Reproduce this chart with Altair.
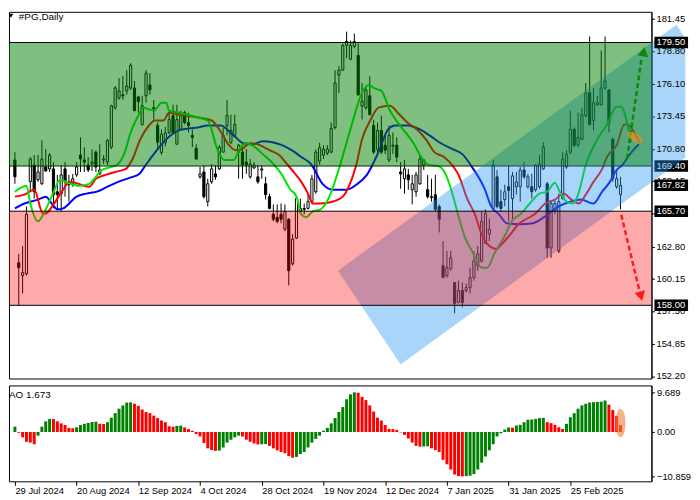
import altair as alt
import numpy as np
import pandas as pd

# ---------------- data ----------------
date_ticks = [0, 16, 32, 48, 64, 80, 96, 112, 128, 144]
date_labels = ["29 Jul 2024", "20 Aug 2024", "12 Sep 2024", "4 Oct 2024", "28 Oct 2024",
               "19 Nov 2024", "12 Dec 2024", "7 Jan 2025", "31 Jan 2025", "25 Feb 2025"]

opens = [
    169.89, 161.48, 160.43, 160.59, 168.11, 169.48, 168.27, 167.94, 169.32, 169.16,
    169.16, 167.29, 167.13, 169.16, 168.10, 167.94, 168.67, 170.29, 169.89, 169.48,
    169.56, 170.53, 168.75, 169.89, 169.72, 170.94, 174.17, 174.97, 175.22, 175.54,
    175.78, 175.78, 175.05, 172.79, 175.14, 176.03, 174.17, 172.71, 170.50, 171.30,
    172.14, 173.52, 171.18, 172.39, 173.76, 172.95, 171.90, 170.85, 168.51, 168.91,
    166.48, 168.10, 168.75, 169.16, 170.53, 172.71, 171.34, 171.90, 170.53, 170.53,
    169.72, 168.51, 169.24, 168.51, 169.07, 167.94, 166.89, 165.44, 165.20, 165.44,
    164.23, 165.04, 161.40, 163.50, 165.68, 165.93, 165.93, 166.48, 167.29, 169.80,
    170.29, 170.45, 170.53, 172.55, 176.83, 177.24, 179.26, 178.13, 179.18, 178.45,
    174.30, 174.17, 175.14, 172.71, 170.77, 172.31, 171.10, 169.89, 171.02, 171.10,
    168.91, 168.35, 168.67, 167.46, 167.29, 167.94, 169.48, 167.46, 166.89, 167.05,
    166.09, 161.24, 160.43, 161.00, 159.86, 158.24, 159.21, 159.21, 159.46, 160.27,
    161.24, 161.63, 163.09, 163.83, 165.93, 168.51, 166.48, 166.65, 167.70, 166.73,
    167.70, 167.70, 169.07, 167.70, 167.70, 167.46, 167.70, 169.16, 167.94, 162.69,
    165.68, 162.44, 166.73, 169.32, 170.53, 172.39, 171.10, 171.58, 173.52, 175.38,
    173.12, 174.41, 174.41, 175.78, 175.62, 171.58, 167.70, 167.05]
highs = [
    170.53, 162.21, 162.85, 166.09, 170.13, 170.29, 170.29, 171.50, 170.77, 170.45,
    169.72, 168.67, 169.48, 169.72, 168.67, 168.75, 169.72, 171.74, 170.94, 170.13,
    170.77, 170.69, 171.18, 170.29, 171.58, 174.41, 175.94, 176.59, 176.75, 177.24,
    177.80, 176.35, 175.14, 175.14, 177.24, 176.99, 174.81, 172.95, 172.40, 172.60,
    173.76, 174.41, 174.41, 173.92, 173.92, 173.76, 172.39, 171.18, 169.32, 169.48,
    168.35, 169.56, 169.48, 171.10, 172.55, 174.81, 173.60, 173.60, 171.18, 170.94,
    170.77, 169.97, 169.72, 169.48, 169.48, 168.51, 167.13, 166.25, 166.25, 166.33,
    166.25, 165.12, 163.83, 166.89, 166.73, 166.33, 167.05, 168.67, 170.77, 171.30,
    171.10, 171.10, 172.95, 177.24, 177.56, 179.42, 180.39, 179.66, 180.23, 179.42,
    176.20, 175.94, 176.75, 173.19, 172.95, 173.52, 171.90, 172.71, 172.14, 171.74,
    169.72, 169.89, 169.16, 168.67, 168.91, 170.29, 169.97, 168.67, 168.35, 168.67,
    166.25, 163.25, 162.44, 162.44, 159.86, 160.02, 159.86, 159.78, 161.08, 162.44,
    162.85, 165.68, 165.85, 165.12, 169.89, 169.07, 167.46, 167.86, 169.48, 168.91,
    168.91, 169.32, 169.72, 168.75, 168.75, 169.56, 170.29, 171.34, 168.10, 166.48,
    166.65, 167.13, 170.53, 170.69, 173.92, 172.55, 173.76, 174.17, 176.19, 179.99,
    175.78, 175.14, 178.85, 179.99, 175.62, 171.74, 169.16, 168.51]
lows = [
    167.94, 158.00, 158.97, 160.43, 167.30, 166.73, 168.10, 167.86, 168.91, 168.91,
    165.93, 165.85, 165.68, 166.89, 166.48, 167.70, 168.51, 168.91, 168.91, 168.91,
    168.99, 168.91, 168.67, 169.56, 169.48, 170.77, 174.00, 174.81, 174.81, 175.22,
    175.62, 173.92, 173.76, 172.71, 174.57, 175.22, 173.20, 170.69, 170.30, 171.00,
    171.98, 171.98, 171.18, 172.31, 172.79, 172.14, 170.94, 169.89, 168.35, 166.73,
    166.09, 167.94, 168.27, 169.07, 170.53, 171.90, 171.18, 171.74, 168.35, 168.35,
    168.75, 168.35, 169.16, 167.94, 168.35, 166.65, 165.85, 164.87, 164.71, 164.71,
    164.06, 159.62, 161.24, 163.42, 165.44, 165.44, 165.85, 166.33, 167.13, 169.50,
    169.97, 170.29, 170.45, 172.39, 175.38, 177.16, 178.21, 178.05, 179.02, 175.14,
    173.20, 174.00, 173.52, 170.37, 170.53, 170.37, 170.37, 169.72, 170.37, 169.72,
    167.54, 167.13, 167.46, 166.25, 166.89, 167.86, 169.07, 166.73, 166.48, 165.68,
    163.96, 160.27, 160.27, 160.83, 157.35, 158.16, 157.84, 159.05, 158.97, 160.02,
    160.83, 161.48, 163.01, 163.25, 165.85, 165.93, 165.68, 166.09, 164.87, 164.87,
    167.05, 166.48, 168.35, 167.54, 166.73, 167.29, 167.54, 169.07, 161.89, 161.89,
    165.44, 162.29, 166.65, 169.16, 170.37, 170.94, 170.94, 171.50, 173.36, 172.71,
    172.31, 174.33, 174.33, 175.62, 172.14, 168.10, 167.54, 165.85]
closes = [
    168.51, 161.08, 160.67, 165.44, 169.97, 167.30, 168.91, 169.97, 169.00, 170.29,
    167.05, 167.05, 168.67, 168.10, 167.86, 168.35, 169.32, 169.97, 169.72, 169.07,
    169.72, 169.32, 169.07, 169.97, 171.50, 174.33, 175.78, 175.54, 175.13, 175.94,
    177.64, 173.92, 174.65, 174.33, 176.99, 175.62, 173.92, 171.34, 172.00, 172.10,
    173.19, 172.14, 173.19, 173.52, 172.95, 172.71, 171.74, 169.97, 168.75, 166.89,
    167.94, 169.16, 168.51, 170.94, 171.90, 173.52, 172.31, 172.79, 171.10, 169.48,
    169.48, 169.56, 169.48, 168.10, 169.16, 167.05, 165.93, 165.04, 164.87, 165.04,
    165.68, 160.83, 163.42, 166.73, 165.93, 165.85, 166.48, 168.35, 170.53, 170.90,
    170.77, 170.77, 172.47, 176.19, 177.24, 179.26, 179.58, 179.26, 179.58, 175.22,
    174.70, 175.62, 173.60, 170.53, 172.31, 170.53, 170.69, 171.90, 171.10, 170.13,
    168.75, 169.16, 168.27, 167.94, 168.67, 169.97, 169.89, 166.89, 166.81, 165.85,
    165.04, 160.27, 161.08, 161.89, 158.16, 159.21, 158.24, 159.46, 160.27, 161.63,
    162.21, 164.87, 165.52, 164.23, 169.48, 166.09, 165.93, 167.29, 167.40, 168.59,
    168.10, 169.07, 168.51, 168.51, 167.29, 169.48, 169.56, 170.94, 162.69, 166.33,
    166.33, 166.48, 169.97, 170.37, 172.39, 171.10, 171.74, 173.60, 175.38, 172.79,
    174.57, 174.57, 175.78, 176.35, 172.95, 168.35, 168.35, 167.82]

# moving-average lines (bar index, price) read at sample points
lips_x = [0, 3, 4, 6, 7.5, 9.75, 11.75, 13.75, 16.75, 19.25, 21, 22.5, 25, 26.75, 28.5, 30, 31.75,
          33.5, 35, 36.25, 38, 39.25, 40, 42.5, 47.5, 50, 52.5, 54.25, 56.75, 58.5, 60, 62.25, 64.25,
          67.25, 69.25, 71.25, 73, 74.25, 75.5, 77.25, 79.25, 81.75, 83.75, 85.5, 87.5, 89.75, 91.75,
          93, 95, 97.25, 99.25, 101.25, 103.5, 105, 107.25, 109.75, 111.75, 113.5, 115, 116.75, 118.5,
          121, 122.5, 124.25, 127.25, 128.75, 131, 133.5, 136, 138, 140, 141.25, 143, 144.75, 146, 148,
          151, 153.5, 156, 157.25, 158.5, 159.75]
lips_y = [167.30, 167.78, 166.33, 164.87, 165.52, 167.05, 168.27, 168.02, 167.78, 167.94, 168.51,
          169.07, 169.32, 169.56, 170.53, 172.14, 173.36, 174.17, 174.00, 174.00, 174.57, 174.57,
          173.92, 173.76, 173.36, 173.12, 170.77, 169.89, 169.89, 170.94, 171.26, 170.94, 170.37,
          169.48, 168.67, 167.54, 166.89, 165.44, 165.20, 165.68, 165.85, 167.05, 168.91, 170.77,
          172.95, 175.22, 176.03, 175.78, 175.54, 173.92, 172.95, 172.14, 171.18, 170.29, 169.48,
          169.40, 168.67, 167.05, 165.28, 163.50, 162.45, 161.08, 161.08, 162.21, 163.83, 164.87,
          165.44, 166.33, 167.14, 167.30, 168.03, 167.30, 166.49, 166.33, 167.06, 169.48, 171.58,
          172.79, 174.25, 174.25, 173.20, 171.34]
teeth_x = [0, 2.5, 5, 7.25, 8, 10, 12.5, 14.25, 19.25, 21, 23.5, 26, 28.75, 30.5, 32.5, 34.75, 36.25,
           38.5, 40, 42.5, 47.5, 51, 53.5, 55.5, 57.25, 58.75, 61, 63.5, 66, 68.5, 70.5, 72.25, 74.25,
           76, 77.25, 79.25, 82.5, 85, 86.75, 88.5, 90, 92.25, 94.25, 97.25, 99.25, 101.75, 104.25,
           106.75, 108.75, 111.25, 113.75, 115, 117.25, 119.25, 121, 123, 124.75, 126.25, 128.5, 130.5,
           132.5, 135, 137.5, 140, 142.25, 144.25, 146.25, 148, 150, 152.25, 153.5, 156, 158, 158.75,
           161, 162]
teeth_y = [166.89, 167.05, 167.46, 165.52, 165.52, 166.25, 167.46, 168.10, 167.70, 168.35, 168.67,
           168.91, 169.16, 169.97, 171.58, 172.71, 173.12, 173.12, 173.76, 173.60, 173.36, 173.12,
           172.14, 171.10, 170.69, 170.77, 171.26, 171.10, 170.69, 170.29, 169.56, 168.91, 168.10,
           167.14, 166.33, 166.33, 166.49, 166.89, 167.86, 169.48, 171.58, 173.20, 174.17, 174.33,
           173.76, 172.95, 172.39, 171.50, 170.53, 170.13, 169.32, 168.67, 166.73, 165.44, 163.82,
           162.85, 162.61, 163.02, 163.82, 164.63, 165.04, 165.52, 166.33, 166.65, 167.14, 166.65,
           166.33, 167.06, 168.10, 169.16, 170.13, 171.10, 172.79, 172.79, 171.90, 171.34]
jaw_x = [0, 2.5, 6, 8, 9.75, 11, 12.5, 16, 18.5, 21.25, 23.5, 26.75, 29.75, 32.25, 33.75, 36, 38.5,
         39.25, 42.5, 45, 47.5, 50, 53.5, 55, 57.25, 59.25, 61.75, 64.25, 66.75, 69.25, 71.75, 74.25,
         76.75, 79.75, 82.5, 86, 88.5, 91.25, 94.25, 96.75, 98.5, 101.75, 105, 107.5, 110, 113.5, 116,
         118.5, 121.75, 123.5, 125.5, 127.5, 131, 134.25, 137.5, 141, 144.25, 146.75, 150, 152.25,
         154.25, 156, 157.5, 159.25, 161.75]
jaw_y = [165.93, 166.33, 166.65, 166.89, 166.25, 165.85, 165.93, 166.89, 167.14, 167.30, 167.62,
         168.10, 168.43, 168.75, 169.40, 170.37, 171.34, 171.58, 172.31, 172.47, 172.55, 172.71,
         172.71, 172.39, 171.74, 171.26, 171.18, 171.42, 171.34, 171.10, 170.69, 170.13, 169.56,
         167.94, 167.46, 167.46, 167.86, 168.67, 170.53, 172.39, 172.71, 172.71, 172.39, 171.90,
         171.34, 170.77, 170.37, 169.32, 167.54, 166.09, 165.44, 164.71, 164.63, 164.71, 165.28,
         166.09, 166.49, 166.65, 166.33, 167.30, 168.10, 169.07, 169.48, 170.29, 171.18]

ao_values = [
    1.3, -0.2, -1.3, -2.4, -2.6, -3.0, -0.9, 1.3, 2.6, 3.2,
    3.15, 2.6, 2.1, 1.7, 1.0, 0.9, 1.15, 1.7, 2.0, 2.2,
    2.45, 2.5, 2.0, 1.95, 2.4, 3.5, 4.6, 5.7, 6.5, 7.2,
    7.25, 6.9, 6.4, 5.5, 4.9, 4.6, 4.0, 3.4, 2.8, 2.4,
    1.4, 1.3, 1.5, 1.55, 1.1, 0.7, 0.3, -0.5, -1.1, -2.7,
    -4.0, -4.4, -4.6, -4.55, -3.8, -2.6, -1.9, -1.3, -0.9, -1.1,
    -1.9, -2.4, -2.8, -3.05, -3.0, -2.95, -3.4, -4.0, -4.5, -4.9,
    -5.2, -5.9, -6.3, -6.1, -5.4, -4.9, -3.8, -2.6, -1.7, -0.9,
    0.3, 1.0, 2.1, 3.4, 4.9, 6.1, 8.0, 9.2, 9.689, 9.6,
    8.6, 7.8, 6.5, 5.0, 3.5, 2.8, 1.7, 0.75, 0.7, 0.5,
    -0.1, -0.7, -1.6, -2.6, -3.4, -3.6, -3.55, -3.5, -4.0, -4.4,
    -4.9, -6.8, -7.9, -9.2, -10.4, -10.8, -10.859, -10.8, -10.7, -10.3,
    -9.2, -7.5, -6.0, -4.5, -3.0, -1.1, -0.3, 0.6, 1.1, 1.05,
    1.6, 1.75, 2.4, 3.0, 3.05, 3.2, 3.4, 3.45, 2.4, 2.15,
    1.75, 1.15, 0.75, 2.0, 3.6, 4.6, 5.7, 6.5, 6.9, 7.2,
    7.3, 7.35, 7.4, 7.7, 6.7, 5.4, 3.9, 1.673]

price_ticks = [181.45, 178.80, 176.10, 173.45, 170.80, 168.15, 165.50, 162.80, 160.15, 157.50, 154.85, 152.20]
ao_ticks = [9.689, 0.0, -10.859]

buy_zone = [169.40, 179.50]
sell_zone = [158.00, 165.70]
top_levels = [179.50, 165.70, 158.00]
mid_level = [169.40]
boxed_top = [179.50, 167.82, 165.70, 158.00]

channel_left = [83.75, 160.83]
channel_bottom = [100.0, 153.15]
channel_top = [171.5, 180.96]
channel_clip = 173.8

up_arrow_i = [158.7, 162.5]
up_arrow_p = [170.0, 178.3]
up_head = [163.0, 178.75]
down_arrow_i = [157.2, 161.9]
down_arrow_p = [165.4, 159.2]
down_head = [162.3, 158.75]
ellipse_main = [160.75, 171.74]
ellipse_ao = [157.0, 2.2]

# ---------------- chart ----------------
W, H_MAIN, H_AO = 650, 371, 97
FONT = "Liberation Sans"
FS = 9.5

n = len(closes)
candles = pd.DataFrame({"i": np.arange(n), "o": opens, "h": highs, "l": lows, "c": closes})

xs = alt.Scale(domain=[-0.25, 163.75], nice=False, zero=False)
ys = alt.Scale(domain=[152.01, 182.01], nice=False, zero=False)
yax = alt.Axis(orient="right", values=price_ticks, labels=False, tickSize=3, grid=False, title=None)


def X(f):
    return alt.X(f, type="quantitative", scale=xs, axis=None)


def Y(f):
    return alt.Y(f, type="quantitative", scale=ys, axis=yax)


wicks = alt.Chart(candles).mark_rule(color="black", strokeWidth=1).encode(x=X("i"), y=Y("l"), y2="h")
bodies = alt.Chart(candles).mark_bar(size=2.2, stroke="black", strokeWidth=1).encode(
    x=X("i"), y=Y("o"), y2="c",
    fill=alt.condition("datum.c >= datum.o", alt.value("white"), alt.value("black")))


def ma_layer(xv, yv, col):
    df = pd.DataFrame({"i": xv, "p": yv})
    return alt.Chart(df).mark_line(color=col, strokeWidth=2, interpolate="monotone").encode(x=X("i"), y=Y("p"))


jaw = ma_layer(jaw_x, jaw_y, "#0000ff")
teeth = ma_layer(teeth_x, teeth_y, "#ff0000")
lips = ma_layer(lips_x, lips_y, "#00e600")

rect_path = "M-1,-0.34L1,-0.34L1,0.34L-1,0.34Z"

mid_df = pd.DataFrame({"p": mid_level})
mid_line = alt.Chart(mid_df).mark_rule(color="black", strokeWidth=1).encode(
    x=alt.value(0), x2=alt.value(W), y=Y("p"))
mid_box = alt.Chart(mid_df).mark_point(shape=rect_path, size=1156, filled=True, color="black",
                                       opacity=1, strokeWidth=0).encode(x=alt.value(W + 20), y=Y("p"))
mid_txt = alt.Chart(mid_df).mark_text(align="left", baseline="middle", font=FONT, fontSize=FS,
                                      color="white").encode(
    x=alt.value(W + 5), y=Y("p"), text=alt.Text("p:Q", format=".2f"))

# channel polygon
L = np.array(channel_left)
B = np.array(channel_bottom)
T = np.array(channel_top)
F = B + (T - L)


def upper(x):
    if x <= T[0]:
        return L[1] + (x - L[0]) * (T[1] - L[1]) / (T[0] - L[0])
    return T[1] + (x - T[0]) * (F[1] - T[1]) / (F[0] - T[0])


def lower(x):
    if x <= B[0]:
        return L[1] + (x - L[0]) * (B[1] - L[1]) / (B[0] - L[0])
    return B[1] + (x - B[0]) * (F[1] - B[1]) / (F[0] - B[0])


cx = [L[0], B[0], T[0], channel_clip]
ch_df = pd.DataFrame({"i": cx, "up": [upper(v) for v in cx], "lo": [lower(v) for v in cx]})
channel = alt.Chart(ch_df).mark_area(color="#2a96f2", opacity=0.4, clip=False).encode(
    x=X("i"), y=Y("up"), y2="lo")

buy_df = pd.DataFrame({"a": [buy_zone[0]], "b": [buy_zone[1]]})
sell_df = pd.DataFrame({"a": [sell_zone[0]], "b": [sell_zone[1]]})
buy_rect = alt.Chart(buy_df).mark_rect(color="#008000", opacity=0.5).encode(
    x=alt.value(0), x2=alt.value(W), y=Y("a"), y2="b")
sell_rect = alt.Chart(sell_df).mark_rect(color="#ff0000", opacity=0.333).encode(
    x=alt.value(0), x2=alt.value(W), y=Y("a"), y2="b")

lev_df = pd.DataFrame({"p": top_levels})
lev_lines = alt.Chart(lev_df).mark_rule(color="black", strokeWidth=1).encode(
    x=alt.value(0), x2=alt.value(W), y=Y("p"))

tick_df = pd.DataFrame({"p": price_ticks})
tick_txt = alt.Chart(tick_df).mark_text(align="left", baseline="middle", font=FONT, fontSize=FS,
                                        color="black").encode(
    x=alt.value(W + 5), y=Y("p"), text=alt.Text("p:Q", format=".2f"))

box_df = pd.DataFrame({"p": boxed_top})
boxes = alt.Chart(box_df).mark_point(shape=rect_path, size=1156, filled=True, color="black",
                                     opacity=1, strokeWidth=0).encode(x=alt.value(W + 20), y=Y("p"))
box_txt = alt.Chart(box_df).mark_text(align="left", baseline="middle", font=FONT, fontSize=FS,
                                      color="white").encode(
    x=alt.value(W + 5), y=Y("p"), text=alt.Text("p:Q", format=".2f"))

up_df = pd.DataFrame({"i": up_arrow_i, "p": up_arrow_p})
dn_df = pd.DataFrame({"i": down_arrow_i, "p": down_arrow_p})
up_line = alt.Chart(up_df).mark_line(color="#0a8a0a", strokeWidth=2.5, strokeDash=[5, 3]).encode(
    x=X("i"), y=Y("p"))
dn_line = alt.Chart(dn_df).mark_line(color="#ff1a1a", strokeWidth=2.5, strokeDash=[5, 3]).encode(
    x=X("i"), y=Y("p"))
uh_df = pd.DataFrame({"i": [up_head[0]], "p": [up_head[1]]})
dh_df = pd.DataFrame({"i": [down_head[0]], "p": [down_head[1]]})
up_tip = alt.Chart(uh_df).mark_point(shape="triangle-up", size=120, filled=True, color="#0a8a0a",
                                     opacity=1, angle=9.5).encode(x=X("i"), y=Y("p"))
dn_tip = alt.Chart(dh_df).mark_point(shape="triangle-down", size=120, filled=True, color="#ff1a1a",
                                     opacity=1, angle=345.5).encode(x=X("i"), y=Y("p"))

el_df = pd.DataFrame({"i": [ellipse_main[0]], "p": [ellipse_main[1]]})
ell_main = alt.Chart(el_df).mark_point(
    shape="M-1,0A1,0.45,0,1,0,1,0A1,0.45,0,1,0,-1,0Z", size=324, filled=True,
    color="#ff8c1a", opacity=0.6, angle=34, strokeWidth=0).encode(x=X("i"), y=Y("p"))

title_df = pd.DataFrame({"t": ["#PG,Daily"]})
title_tri = alt.Chart(title_df).mark_point(shape="triangle-down", size=22, filled=True, color="black",
                                           opacity=1).encode(x=alt.value(2), y=alt.value(4))
title_txt = alt.Chart(title_df).mark_text(align="left", baseline="top", font=FONT, fontSize=10,
                                          color="black").encode(x=alt.value(10), y=alt.value(0), text="t:N")

main = alt.layer(
    wicks, bodies, jaw, teeth, lips, mid_line, mid_box, mid_txt, channel, buy_rect, sell_rect,
    lev_lines, tick_txt, boxes, box_txt, up_line, dn_line, up_tip, dn_tip, ell_main, title_tri, title_txt
).properties(width=W, height=H_MAIN)

# ---------------- AO panel ----------------
ao_df = pd.DataFrame({"i": np.arange(n), "ao": ao_values})
ao_df["up"] = ao_df["ao"].diff().fillna(1.0) >= 0

ao_scale = alt.Scale(domain=[-12.07, 11.38], nice=False, zero=False)
ao_axis = alt.Axis(orient="right", values=ao_ticks,
                   labelExpr="datum.value == 0 ? '0.00' : format(datum.value, '.3f')",
                   tickSize=3, labelPadding=2, grid=False, title=None)
date_expr = "".join(f"datum.value == {t} ? '{l}' : " for t, l in zip(date_ticks, date_labels)) + "''"
x_axis_ao = alt.Axis(values=date_ticks, labelExpr=date_expr, tickSize=4, labelPadding=0,
                     labelAlign="left", domain=False, grid=False, title=None,
                     labelOverlap=False, labelFlush=False)

ao_bars = alt.Chart(ao_df).mark_bar(size=3).encode(
    x=alt.X("i:Q", scale=xs, axis=x_axis_ao),
    y=alt.Y("ao:Q", scale=ao_scale, axis=ao_axis, stack=None),
    y2=alt.datum(0),
    color=alt.condition("datum.up", alt.value("#008000"), alt.value("#ff0000")))

ea_df = pd.DataFrame({"i": [ellipse_ao[0]], "v": [ellipse_ao[1]]})
ell_ao = alt.Chart(ea_df).mark_point(
    shape="M0,-1A0.35,1,0,1,0,0,1A0.35,1,0,1,0,0,-1Z", size=841, filled=True,
    color="#f0803c", opacity=0.6, strokeWidth=0).encode(
    x=alt.X("i:Q", scale=xs, axis=x_axis_ao), y=alt.Y("v:Q", scale=ao_scale, axis=ao_axis))

ao_lab_df = pd.DataFrame({"t": ["AO 1.673"]})
ao_lab = alt.Chart(ao_lab_df).mark_text(align="left", baseline="top", font=FONT, fontSize=10,
                                        color="black").encode(x=alt.value(0), y=alt.value(5), text="t:N")

ao = alt.layer(ao_bars, ell_ao, ao_lab).properties(width=W, height=H_AO)

chart = alt.vconcat(main, ao, spacing=3).properties(
    padding={"left": 0, "top": 0, "right": 0, "bottom": 0}, background="white"
).configure_view(stroke="black", strokeWidth=1).configure_axis(
    labelFont=FONT, labelFontSize=FS, labelColor="black", tickColor="black", domainColor="black")

chart.save("out.html", embed_options={"renderer": "svg", "actions": False})
